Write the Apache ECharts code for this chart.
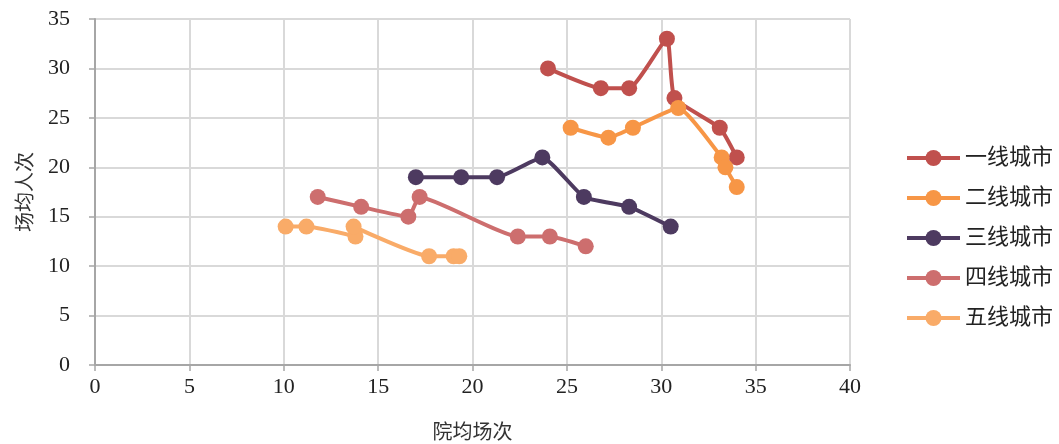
<!DOCTYPE html>
<html><head><meta charset="utf-8">
<script src="https://cdn.jsdelivr.net/npm/echarts@6/dist/echarts.min.js"></script>
<style>html,body{margin:0;padding:0;background:#fff}#c{width:1059px;height:444px}</style>
</head><body><div id="c"></div>
<script>
const seriesNames = ['一线城市','二线城市','三线城市','四线城市','五线城市'];
const tier1 = [[24,30],[26.8,28],[28.3,28],[30.3,33],[30.7,27],[33.1,24],[34.0,21]];
const tier2 = [[25.2,24],[27.2,23],[28.5,24],[30.9,26],[33.2,21],[33.4,20],[34.0,18]];
const tier3 = [[17.0,19],[19.4,19],[21.3,19],[23.7,21],[25.9,17],[28.3,16],[30.5,14]];
const tier4 = [[11.8,17],[14.1,16],[16.6,15],[17.2,17],[22.4,13],[24.1,13],[26.0,12]];
const tier5 = [[10.1,14],[11.2,14],[13.8,13],[13.7,14],[17.7,11],[19.0,11],[19.3,11]];
const colors = ['#C0504D','#F79646','#4D3A60','#CD6E6E','#F9AB68'];
const xName = '院均场次';
const yName = '场均人次';
const allData = [tier1,tier2,tier3,tier4,tier5];
const numFont = '"Liberation Serif","Times New Roman",serif';
const cjkFont = '"Liberation Serif","Noto Sans CJK SC",serif';
const chart = echarts.init(document.getElementById('c'));
chart.setOption({
  animation:false,
  backgroundColor:'#fff',
  color:colors,
  grid:{left:95,right:209,top:19,bottom:79,containLabel:false,outerBoundsMode:'none'},
  legend:{
    orient:'vertical', left:900, top:142, itemGap:18,
    itemWidth:53, itemHeight:20,
    lineStyle:{width:4},
    textStyle:{fontFamily:cjkFont,fontSize:22,color:'#222'},
    data:seriesNames
  },
  xAxis:{
    type:'value', min:0, max:40, interval:5,
    name:xName, nameLocation:'middle', nameGap:59,
    nameTextStyle:{fontFamily:cjkFont,fontSize:20,color:'#333'},
    axisLine:{show:true,lineStyle:{color:'#A6A6A6',width:2}},
    axisTick:{show:true,length:6,lineStyle:{color:'#A6A6A6',width:1.5}},
    axisLabel:{fontFamily:numFont,fontSize:22,color:'#222',margin:11},
    splitLine:{show:true,lineStyle:{color:'#D9D9D9',width:2}}
  },
  yAxis:{
    type:'value', min:0, max:35, interval:5,
    name:yName, nameLocation:'middle', nameGap:52, nameRotate:90,
    nameTextStyle:{fontFamily:cjkFont,fontSize:20,color:'#333'},
    axisLine:{show:true,lineStyle:{color:'#A6A6A6',width:2}},
    axisTick:{show:true,length:6,lineStyle:{color:'#A6A6A6',width:1.5}},
    axisLabel:{fontFamily:numFont,fontSize:22,color:'#222',margin:25},
    splitLine:{show:true,lineStyle:{color:'#D9D9D9',width:2}}
  },
  series: allData.map((d,i)=>({
    name:seriesNames[i], type:'line', data:d, smooth:0.15,
    symbol:'circle', symbolSize:16,
    lineStyle:{width:4,color:colors[i]},
    itemStyle:{color:colors[i]}
  }))
});
</script></body></html>
